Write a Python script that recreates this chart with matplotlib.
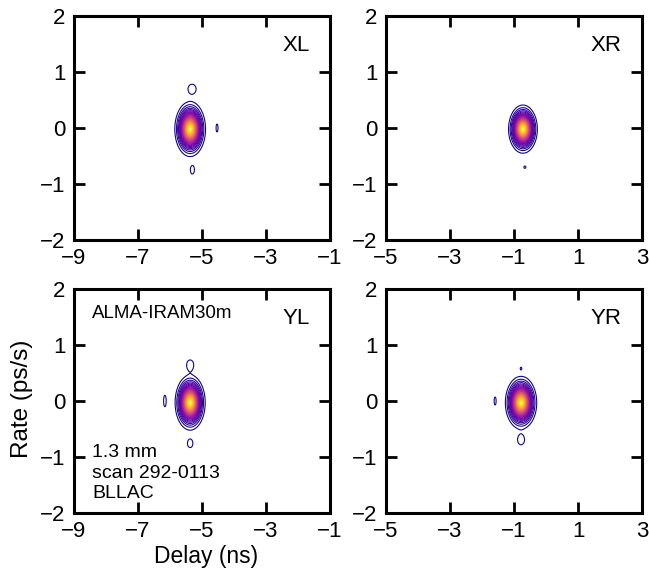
import numpy as np
import matplotlib.pyplot as plt

plt.rcParams["font.family"] = ["Liberation Sans", "DejaVu Sans"]

# panel names and delay windows (ns)
panels = ["XL", "XR", "YL", "YR"]
delay_lo = [-9, -5, -9, -5]
delay_hi = [-1, 3, -1, 3]

# main fringe peak per panel
peak_delay = [-5.37, -0.72, -5.37, -0.78]
peak_rate = [-0.02, -0.02, -0.03, -0.03]
# half size of the outermost contour
peak_wd = [0.48, 0.45, 0.47, 0.49]
peak_wr = [0.49, 0.43, 0.49, 0.47]

# small side lobes: (delay, rate, half size in delay, half size in rate)
side_lobes = {
    "XL": [(-5.31, 0.70, 0.12, 0.08), (-4.53, 0.0, 0.03, 0.07), (-5.30, -0.75, 0.06, 0.07)],
    "XR": [(-0.66, -0.70, 0.03, 0.02)],
    "YL": [(-5.37, 0.65, 0.10, 0.08), (-6.16, 0.0, 0.04, 0.10), (-5.37, -0.76, 0.08, 0.07)],
    "YR": [(-0.78, 0.58, 0.02, 0.02), (-1.59, 0.0, 0.03, 0.07), (-0.78, -0.70, 0.10, 0.08)],
}

levels = np.linspace(0.04, 1.0, 32)
lowest = levels[0]
shape_p = 1.7  # peak sharpness

W, H = 649, 576
fig = plt.figure(figsize=(W / 100, H / 100), dpi=100)
boxes = [(74, 16), (386, 16), (74, 289), (386, 289)]
axw, axh = 256, 224

rate = np.linspace(-2, 2, 401)
for i, name in enumerate(panels):
    x0, y0 = boxes[i]
    ax = fig.add_axes([x0 / W, 1 - (y0 + axh) / H, axw / W, axh / H])
    delay = np.linspace(delay_lo[i], delay_hi[i], 801)
    D, R = np.meshgrid(delay, rate)

    k = np.log(1 / lowest) ** (1 / shape_p)
    rr = np.hypot((D - peak_delay[i]) / (peak_wd[i] / k), (R - peak_rate[i]) / (peak_wr[i] / k))
    Z = np.exp(-rr**shape_p)

    amp = lowest * 1.5
    ks = np.sqrt(2 * np.log(amp / lowest))
    for d, r, wd, wr in side_lobes[name]:
        Z += amp * np.exp(-((D - d) ** 2 / (2 * (wd / ks) ** 2) + (R - r) ** 2 / (2 * (wr / ks) ** 2)))

    ax.contour(D, R, Z, levels=levels, cmap="plasma", linewidths=0.8)

    ax.set_xlim(delay_lo[i], delay_hi[i])
    ax.set_ylim(-2, 2)
    ax.set_xticks(np.arange(delay_lo[i], delay_hi[i] + 1, 2))
    ax.set_yticks([-2, -1, 0, 1, 2])
    ax.tick_params(direction="in", length=8, width=2, labelsize=16, pad=6,
                   top=True, right=True)
    for s in ax.spines.values():
        s.set_linewidth(2.2)

    ax.text(0.92, 0.87, name, transform=ax.transAxes, fontsize=16, ha="right", va="center")

    if name == "YL":
        ax.text(0.07, 0.89, "ALMA-IRAM30m", transform=ax.transAxes, fontsize=13.5, va="center")
        ax.text(0.07, 0.05, "1.3 mm\nscan 292-0113\nBLLAC", transform=ax.transAxes,
                fontsize=14, va="bottom", linespacing=1.25)
        ax.set_xlabel("Delay (ns)", fontsize=16.5)
        ax.set_ylabel("Rate (ps/s)", fontsize=17.5)
        ax.xaxis.set_label_coords(0.515, -0.145)
        ax.yaxis.set_label_coords(-0.16, 0.51)

plt.savefig("out.png", dpi=100)
